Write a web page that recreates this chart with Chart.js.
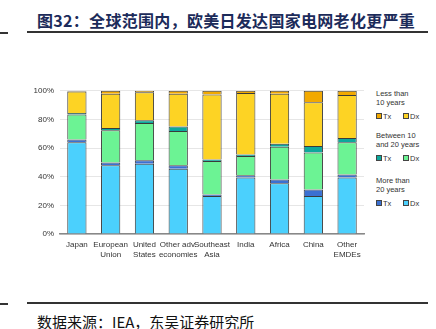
<!DOCTYPE html>
<html>
<head>
<meta charset="utf-8">
<script src="https://cdn.jsdelivr.net/npm/chart.js@4"></script>
<style>
    body { margin: 0; width: 436px; height: 329px; background: #fff; position: relative; overflow: hidden; font-family: "Liberation Sans", Arial, sans-serif; }
    .title { position: absolute; left: 37px; top: 8px; font-family: "Noto Sans CJK SC", sans-serif; font-weight: bold; font-size: 16px; letter-spacing: 0.3px; color: #1c2b5a; white-space: nowrap; }
    .rule { position: absolute; height: 2px; background: #333; }
    .source { position: absolute; left: 37px; top: 311px; font-family: "Noto Sans CJK SC", sans-serif; font-size: 15px; color: #111; white-space: nowrap; }
    #chart-box { position: absolute; left: 0; top: 80px; width: 368px; height: 184px; }
    .legend .grp { position: absolute; left: 376px; font-size: 7.5px; color: #333; line-height: 9px; }
    .legend .sw { display: inline-block; width: 4px; height: 4px; border: 1px solid #444; margin-right: 1px; vertical-align: 0px; }
    .legend .row { margin-top: 5px; }
    .legend .row span.item { display: inline-block; width: 27px; }
</style>
</head>
<body>
<div class="title">图32：全球范围内，欧美日发达国家电网老化更严重</div>
<div class="rule" style="left:0;top:32px;width:8px;"></div>
<div class="rule" style="left:27px;top:31px;width:401px;"></div>
<div id="chart-box"><canvas id="age-chart"></canvas></div>
<div class="legend" id="legend"></div>
<div class="rule" style="left:0;top:303px;width:8px;"></div>
<div class="rule" style="left:27px;top:302px;width:401px;"></div>
<div class="source">数据来源：IEA，东吴证券研究所</div>

<script>
// regions on the x axis
const regions = [
    ['Japan'], ['European', 'Union'], ['United', 'States'], ['Other adv.', 'economies'],
    ['Southeast', 'Asia'], ['India'], ['Africa'], ['China'], ['Other', 'EMDEs']
];
const yTicks = [0, 20, 40, 60, 80, 100];

// share of network by age (%)
const over20Dx = [64, 48, 49, 45.5, 26.5, 39.5, 35.5, 26.5, 39.5];
const over20Tx = [2, 2, 2.5, 2.5, 1, 1.5, 2.5, 4.5, 2];
const mid10Dx = [17.5, 22.5, 26, 24, 23.5, 13.5, 23, 26, 22.5];
const mid10Tx = [1, 1.5, 2, 3, 1, 1, 2, 4.5, 3];
const under10Dx = [15, 24, 19.5, 23, 45.5, 43, 35, 30.5, 30];
const under10Tx = [0.5, 2, 1, 2, 2.5, 1.5, 2, 8, 3];

const colors = {
    over20Dx: '#4bd0fd', over20Tx: '#3b70d2',
    mid10Dx: '#6cf394', mid10Tx: '#0da89c',
    under10Dx: '#fdd324', under10Tx: '#f2a900'
};

const legendGroups = [
    { label: 'Less than<br>10 years', tx: colors.under10Tx, dx: colors.under10Dx, top: 89 },
    { label: 'Between 10<br>and 20 years', tx: colors.mid10Tx, dx: colors.mid10Dx, top: 131 },
    { label: 'More than<br>20 years', tx: colors.over20Tx, dx: colors.over20Dx, top: 176 }
];

document.getElementById('legend').innerHTML = legendGroups.map(g => `
    <div class="grp" style="top:${g.top}px">
        <div>${g.label}</div>
        <div class="row"><span class="item"><span class="sw" style="background:${g.tx}"></span>Tx</span><span class="item"><span class="sw" style="background:${g.dx}"></span>Dx</span></div>
    </div>
`).join('');

function ds(label, data, color) {
    return {
        label, data,
        backgroundColor: color,
        borderColor: '#3a3a3a',
        borderWidth: 1,
        barPercentage: 0.57,
        categoryPercentage: 1
    };
}

const tickFont = { size: 8, family: 'Liberation Sans' };

new Chart(document.getElementById('age-chart'), {
    type: 'bar',
    data: {
        labels: regions,
        datasets: [
            ds('>20 Dx', over20Dx, colors.over20Dx),
            ds('>20 Tx', over20Tx, colors.over20Tx),
            ds('10-20 Dx', mid10Dx, colors.mid10Dx),
            ds('10-20 Tx', mid10Tx, colors.mid10Tx),
            ds('<10 Dx', under10Dx, colors.under10Dx),
            ds('<10 Tx', under10Tx, colors.under10Tx)
        ]
    },
    options: {
        responsive: true,
        maintainAspectRatio: false,
        animation: false,
        layout: { padding: { top: 3, right: 4 } },
        plugins: { legend: { display: false }, tooltip: { enabled: false } },
        scales: {
            x: {
                stacked: true,
                grid: { display: false, drawTicks: false },
                border: { color: '#888', width: 1.5 },
                ticks: { color: '#333', font: tickFont, padding: 6, maxRotation: 0, autoSkip: false },
                afterFit: s => { s.height = 30; }
            },
            y: {
                stacked: true,
                min: 0, max: 100,
                afterBuildTicks: s => { s.ticks = yTicks.map(v => ({ value: v })); },
                grid: { color: '#e6e6e6', drawTicks: false },
                border: { display: false },
                ticks: { color: '#333', font: tickFont, padding: 6, callback: v => v + '%' },
                afterFit: s => { s.width = 60; }
            }
        }
    }
});
</script>
</body>
</html>
